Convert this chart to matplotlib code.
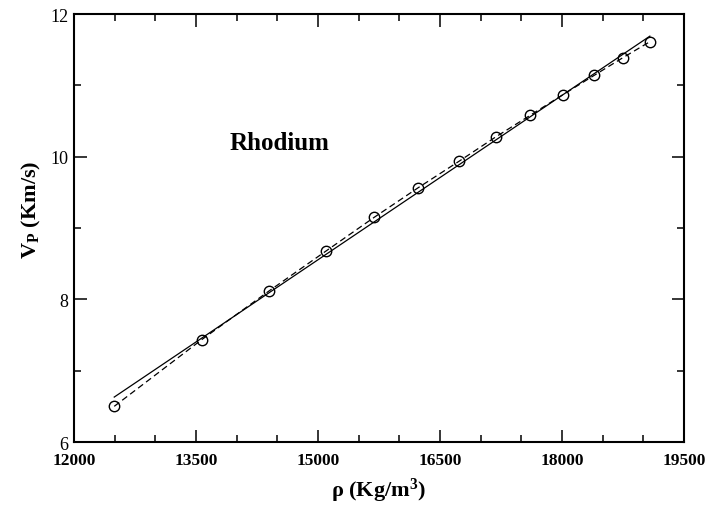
import matplotlib.pyplot as plt
from matplotlib.ticker import MultipleLocator

plt.rcParams['font.family'] = ['Liberation Serif', 'DejaVu Serif']
plt.rcParams['mathtext.fontset'] = 'custom'
plt.rcParams['mathtext.rm'] = 'Liberation Serif:bold'
plt.rcParams['mathtext.bf'] = 'Liberation Serif:bold'
plt.rcParams['mathtext.default'] = 'bf'

# density (Kg/m^3) and P-wave velocity (Km/s)
rho = [12495, 13570, 14398, 15095, 15692, 16233, 16734, 17185, 17610, 18012, 18397, 18750, 19082]
vp = [6.50, 7.434, 8.117, 8.674, 9.15, 9.565, 9.935, 10.276, 10.58, 10.869, 11.14, 11.388, 11.612]

# straight fit line, end points
fit_rho = [12495, 19082]
fit_vp = [6.63, 11.69]

fig = plt.figure(figsize=(7.1, 5.06), dpi=100)
ax = fig.add_axes([0.1042, 0.1245, 0.859, 0.8458])

ax.plot(fit_rho, fit_vp, color='black', lw=0.9)
ax.plot(rho, vp, color='black', lw=0.9, ls=(0, (5, 3)),
        marker='o', ms=7.5, mfc='none', mec='black', mew=1.0)

ax.set_xlim(12000, 19500)
ax.set_ylim(6, 12)
ax.xaxis.set_major_locator(MultipleLocator(1500))
ax.xaxis.set_minor_locator(MultipleLocator(500))
ax.yaxis.set_major_locator(MultipleLocator(2))
ax.yaxis.set_minor_locator(MultipleLocator(1))
ax.tick_params(which='both', direction='in', top=True, right=True, width=1.1)
ax.tick_params(which='major', length=9)
ax.tick_params(which='minor', length=5)
ax.tick_params(axis='x', labelsize=12.5, pad=7)
ax.tick_params(axis='y', labelsize=13, pad=4)
for lab in ax.get_xticklabels():
    lab.set_fontweight('bold')
for s in ax.spines.values():
    s.set_linewidth(1.5)

ax.set_xlabel('ρ (Kg/m$^{3}$)', fontsize=16, fontweight='bold', labelpad=6)
ax.set_ylabel('V$_{P}$ (Km/s)', fontsize=16, fontweight='bold')
ax.yaxis.set_label_coords(-0.05, 0.545)

ax.text(14533, 10.2, 'Rhodium', fontsize=18, fontweight='bold', ha='center', va='center')

fig.savefig('out.png', dpi=100)
